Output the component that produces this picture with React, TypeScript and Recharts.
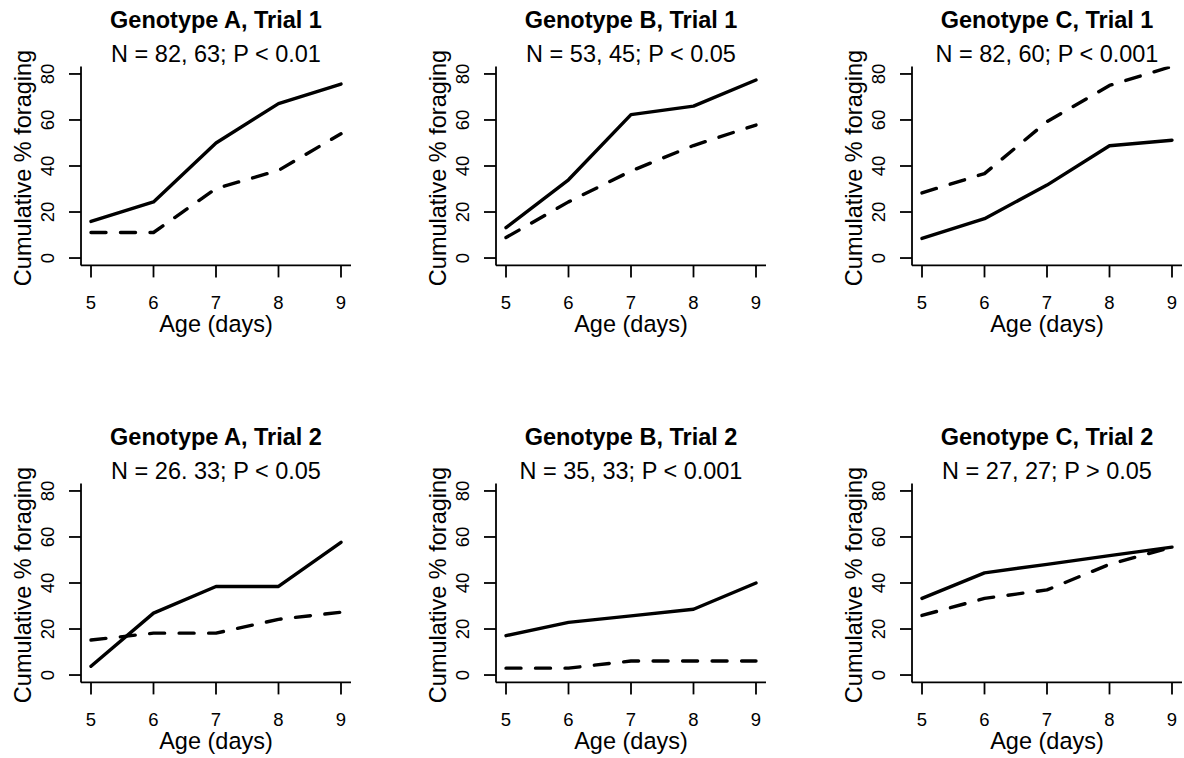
import {Line, LineChart, XAxis, YAxis} from 'recharts'

const days = [5, 6, 7, 8, 9]
const yTicks = [0, 20, 40, 60, 80]

const titles = [
    'Genotype A, Trial 1', 'Genotype B, Trial 1', 'Genotype C, Trial 1',
    'Genotype A, Trial 2', 'Genotype B, Trial 2', 'Genotype C, Trial 2',
]
const subtitles = [
    'N = 82, 63; P < 0.01', 'N = 53, 45; P < 0.05', 'N = 82, 60; P < 0.001',
    'N = 26. 33; P < 0.05', 'N = 35, 33; P < 0.001', 'N = 27, 27; P > 0.05',
]

// solid line = first group, dashed line = second group
const solidA1 = [15.9, 24.4, 50.0, 67.1, 75.6]
const dashedA1 = [11.1, 11.1, 30.2, 38.1, 54.0]
const solidB1 = [13.2, 34.0, 62.3, 66.0, 77.4]
const dashedB1 = [8.9, 24.4, 37.8, 48.9, 57.8]
const solidC1 = [8.5, 17.1, 31.7, 48.8, 51.2]
const dashedC1 = [28.3, 36.7, 59.3, 75.0, 83.3]
const solidA2 = [3.8, 26.9, 38.5, 38.5, 57.7]
const dashedA2 = [15.2, 18.2, 18.2, 24.2, 27.3]
const solidB2 = [17.1, 22.9, 25.7, 28.6, 40.0]
const dashedB2 = [3.0, 3.0, 6.1, 6.1, 6.1]
const solidC2 = [33.3, 44.4, 48.1, 51.9, 55.6]
const dashedC2 = [25.9, 33.3, 37.0, 48.1, 55.6]

const solids = [solidA1, solidB1, solidC1, solidA2, solidB2, solidC2]
const dashes = [dashedA1, dashedB1, dashedC1, dashedA2, dashedB2, dashedC2]

const FONT = '"Liberation Sans", Arial, Helvetica, sans-serif'
const colLeft = [81, 496, 912]
const rowTop = [66.6, 483.6]
const PLOT_W = 270
const PLOT_H = 198.8
const Y_W = 81
const X_H = 70
const CHART_W = Y_W + PLOT_W + 2
const CHART_H = 66.6 + PLOT_H + X_H + 2

const XTick = ({x, y, payload}: any) => (
    <text x={x} y={y + 32} textAnchor="middle" fontSize={18.5} fontFamily={FONT} fill="#000">
        {payload.value}
    </text>
)

const YTick = ({x, y, payload}: any) => (
    <text x={x - 14.5} y={y} transform={`rotate(-90, ${x - 14.5}, ${y})`} textAnchor="middle"
          fontSize={18.5} fontFamily={FONT} fill="#000">
        {payload.value}
    </text>
)

const Panel = ({i}: { i: number }) => {
    const data = days.map((d, k) => ({day: d, solid: solids[i][k], dashed: dashes[i][k]}))
    const top = rowTop[Math.floor(i / 3)] - 66.6
    const left = colLeft[i % 3] - Y_W
    const cx = Y_W + PLOT_W / 2
    const cy = 66.6 + PLOT_H / 2 + 2
    const axisStyle = {stroke: '#000', strokeWidth: 1.8}
    return (
        <div style={{position: 'absolute', left, top}}>
            <LineChart width={CHART_W} height={CHART_H} data={data}
                       margin={{top: 66.6, right: 2, bottom: 2, left: 0}}>
                <XAxis dataKey="day" type="number" domain={[4.84, 9.16]} ticks={days} allowDataOverflow
                       height={X_H} tickSize={12} tickMargin={0} tick={<XTick/>}
                       axisLine={axisStyle} tickLine={axisStyle}/>
                <YAxis type="number" domain={[-3.2, 83.2]} ticks={yTicks} allowDataOverflow
                       width={Y_W} tickSize={12} tickMargin={0} tick={<YTick/>}
                       axisLine={axisStyle} tickLine={axisStyle}/>
                <Line dataKey="solid" type="linear" stroke="#000" strokeWidth={3.4} dot={false}
                      activeDot={false} strokeLinejoin="round" strokeLinecap="round" isAnimationActive={false}/>
                <Line dataKey="dashed" type="linear" stroke="#000" strokeWidth={3.4} dot={false}
                      activeDot={false} strokeDasharray="15 14.5" strokeLinejoin="round" strokeLinecap="round"
                      isAnimationActive={false}/>
                <text x={cx} y={28.3} textAnchor="middle" fontSize={23.5} fontWeight="bold" fontFamily={FONT}
                      fill="#000">{titles[i]}</text>
                <text x={cx} y={61.7} textAnchor="middle" fontSize={23.5} fontFamily={FONT}
                      fill="#000">{subtitles[i]}</text>
                <text x={cx} y={66.6 + PLOT_H + 67} textAnchor="middle" fontSize={23.5} fontFamily={FONT}
                      fill="#000">Age (days)</text>
                <text x={Y_W - 50} y={cy} transform={`rotate(-90, ${Y_W - 50}, ${cy})`} textAnchor="middle"
                      fontSize={23.5} fontFamily={FONT} fill="#000">Cumulative % foraging</text>
            </LineChart>
        </div>
    )
}

export default function App() {
    return (
        <div style={{position: 'absolute', left: 0, top: 0, width: 1184, height: 758, background: '#fff'}}>
            {titles.map((t, i) => <Panel key={t} i={i}/>)}
        </div>
    )
}
